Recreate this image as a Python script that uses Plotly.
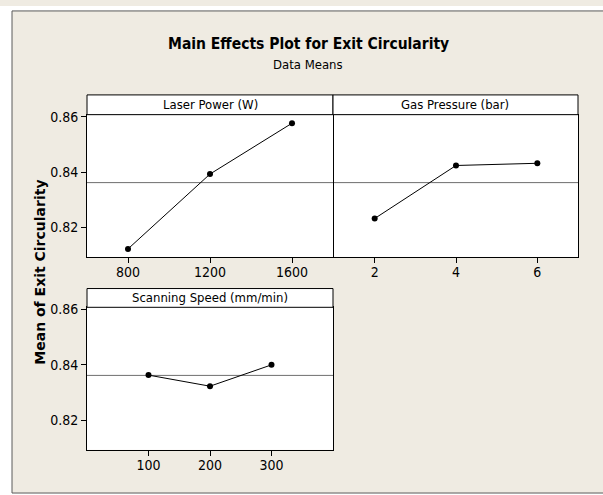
import plotly.graph_objects as go

W, H = 603, 495

# ---- data ----
laser_power = [800, 1200, 1600]
laser_means = [0.8122, 0.8393, 0.8577]
gas_pressure = [2, 4, 6]
gas_means = [0.8232, 0.8424, 0.8432]
scan_speed = [100, 200, 300]
scan_means = [0.8363, 0.8323, 0.8400]
grand_mean = 0.8362
panel_titles = ["Laser Power (W)", "Gas Pressure (bar)", "Scanning Speed (mm/min)"]
y_ticks = [0.82, 0.84, 0.86]

NARROW = "Liberation Sans Narrow, Arial Narrow, DejaVu Sans Condensed, sans-serif"
BG = "#EFEBE2"


def fx(px):
    return px / W


def fy(px):
    return 1 - px / H


fig = go.Figure()

series = [(laser_power, laser_means, "x", "y"),
          (gas_pressure, gas_means, "x2", "y2"),
          (scan_speed, scan_means, "x3", "y3")]
for xs, ys, xa, ya in series:
    fig.add_trace(go.Scatter(x=xs, y=ys, xaxis=xa, yaxis=ya, mode="lines+markers",
                             line=dict(color="black", width=1),
                             marker=dict(color="black", size=6, symbol="circle"),
                             showlegend=False, hoverinfo="x+y"))

yrange = [0.8093, 0.8608]
axis_common = dict(showline=True, linecolor="black", linewidth=1, mirror=True,
                   showgrid=False, zeroline=False, ticks="outside", ticklen=5,
                   tickcolor="black", tickwidth=1,
                   tickfont=dict(family=NARROW, size=14, color="black"))

panels = {
    1: dict(x=(87, 333), y=(110, 254), xr=[600, 1800], xt=laser_power, ylab=True),
    2: dict(x=(334, 578), y=(110, 254), xr=[1, 7], xt=gas_pressure, ylab=False),
    3: dict(x=(87, 333), y=(305, 449.3), xr=[0, 400], xt=scan_speed, ylab=True),
}

layout_axes = {}
for i, p in panels.items():
    sfx = "" if i == 1 else str(i)
    layout_axes["xaxis" + sfx] = dict(axis_common, domain=[fx(p["x"][0]), fx(p["x"][1])],
                                      range=p["xr"], tickvals=p["xt"],
                                      anchor="y" + sfx, ticklabelstandoff=-3)
    ya = dict(axis_common, domain=[fy(p["y"][1]), fy(p["y"][0])], range=yrange,
              tickvals=y_ticks, tickformat=".2f", anchor="x" + sfx)
    if not p["ylab"]:
        ya.update(showticklabels=False, ticks="")
    layout_axes["yaxis" + sfx] = ya

shapes = []
# white margins outside the frame
shapes.append(dict(type="rect", xref="paper", yref="paper", x0=0, x1=fx(12), y0=0, y1=1,
                   fillcolor="white", line=dict(width=0), layer="below"))
shapes.append(dict(type="rect", xref="paper", yref="paper", x0=0, x1=1, y0=fy(5), y1=1,
                   fillcolor="white", line=dict(width=0), layer="below"))
shapes.append(dict(type="rect", xref="paper", yref="paper", x0=0, x1=1, y0=0, y1=fy(493),
                   fillcolor="white", line=dict(width=0), layer="below"))
# frame
shapes.append(dict(type="rect", xref="paper", yref="paper", x0=fx(12), x1=fx(640),
                   y0=fy(493), y1=fy(5), line=dict(color="#5a5a5a", width=1),
                   fillcolor="rgba(0,0,0,0)", layer="below"))

annotations = []
strip_rows = {1: (90, 110), 2: (90, 110), 3: (286, 305)}
strip_x = {1: (87, 333), 2: (333, 578), 3: (87, 333)}
for i, p in panels.items():
    sfx = "" if i == 1 else str(i)
    top, bot = strip_rows[i]
    left, right = strip_x[i]
    shapes.append(dict(type="rect", xref="paper", yref="paper",
                       x0=fx(left), x1=fx(right), y0=fy(bot), y1=fy(top),
                       fillcolor="white", line=dict(color="black", width=1)))
    annotations.append(dict(text=panel_titles[i - 1], xref="paper", yref="paper",
                            x=fx((left + right) / 2), y=fy((top + bot) / 2),
                            xanchor="center", yanchor="middle", showarrow=False,
                            font=dict(family=NARROW, size=13, color="black")))
    # reference line at grand mean
    shapes.append(dict(type="line", xref="x" + sfx + " domain", yref="y" + sfx,
                       x0=0, x1=1, y0=grand_mean, y1=grand_mean,
                       line=dict(color="#6e6e6e", width=1), layer="below"))

annotations.append(dict(text="<b>Main Effects Plot for Exit Circularity</b>",
                        xref="paper", yref="paper", x=fx(308), y=fy(38),
                        xanchor="center", yanchor="middle", showarrow=False,
                        font=dict(family=NARROW, size=15.5, color="black")))
annotations.append(dict(text="Data Means", xref="paper", yref="paper", x=fx(308), y=fy(59),
                        xanchor="center", yanchor="middle", showarrow=False,
                        font=dict(family=NARROW, size=13, color="black")))
annotations.append(dict(text="<b>Mean of Exit Circularity</b>", xref="paper", yref="paper",
                        x=fx(40), y=fy(270), textangle=-90,
                        xanchor="center", yanchor="middle", showarrow=False,
                        font=dict(family="DejaVu Sans, Verdana, sans-serif", size=14,
                                  color="black")))

fig.update_layout(width=W, height=H, margin=dict(l=0, r=0, t=0, b=0),
                  paper_bgcolor=BG, plot_bgcolor="white",
                  shapes=shapes, annotations=annotations, showlegend=False,
                  **layout_axes)

fig.write_html(
    "out.html", config={"displayModeBar": False},
    post_script=("document.body.style.margin='0';document.body.style.padding='0';"
                 "var d=document.getElementById('{plot_id}');"
                 "d.style.position='absolute';d.style.top='0px';d.style.left='0px';"))
